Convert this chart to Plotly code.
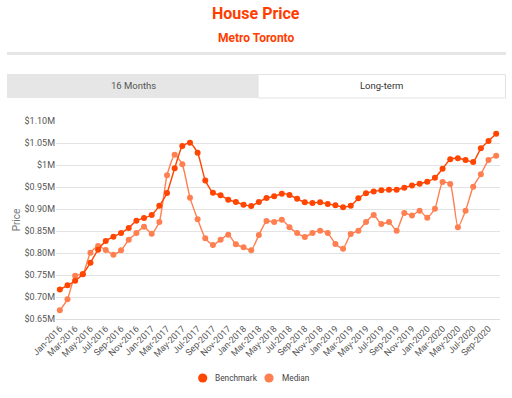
import plotly.graph_objects as go

months = [f"{m}-{y}" for y in range(2016, 2021) for m in
          ["Jan", "Feb", "Mar", "Apr", "May", "Jun", "Jul", "Aug", "Sep", "Oct", "Nov", "Dec"]][:58]

benchmark = [717, 726.5, 737, 751.5, 778, 807.5, 827, 837, 845.5, 857, 873.5, 879.5,
             886.4, 907.6, 936.4, 992.4, 1043.2, 1050.8, 1028, 965, 937, 931, 921, 916,
             909.8, 906.8, 916, 925, 928.8, 934.8, 931.8, 923.5, 915.2, 913.6, 915.5, 911.4,
             908.3, 904.2, 907.6, 924.2, 935.6, 940, 942.4, 944, 944, 948.5, 953.4, 957.6,
             962, 971, 991.7, 1013, 1015.2, 1011.2, 1006.8, 1037.8, 1054.7, 1071]
median = [669.7, 694.7, 748.5, 752, 800.8, 815.9, 807, 796, 806, 830, 845.5, 859.8,
          844, 870.5, 976.5, 1023.5, 1001.5, 925.8, 876.5, 833.3, 818, 830, 841.7, 819.7,
          812.9, 806, 841, 872.7, 870.5, 875.8, 858.3, 845.5, 836.4, 845.5, 850.8, 845.5,
          820.5, 809.8, 843, 850.8, 870.5, 886.4, 865.9, 870.5, 850.8, 890.9, 885.2, 896.2,
          880.3, 900.8, 961.4, 956.8, 858.3, 896.2, 950.8, 978.8, 1011.4, 1021.2]

y_ticks = [650, 700, 750, 800, 850, 900, 950, 1000, 1050, 1100]
y_tick_text = ["$0.65M", "$0.70M", "$0.75M", "$0.80M", "$0.85M", "$0.90M",
               "$0.95M", "$1M", "$1.05M", "$1.10M"]

series_names = ["Benchmark", "Median"]

x_tick_vals = months[::2]

benchmark_usd = [v * 1000 for v in benchmark]
median_usd = [v * 1000 for v in median]
y_ticks_usd = [v * 1000 for v in y_ticks]

C_BENCH = "#ff4500"
C_MED = "#ff7f50"
W, H = 512, 398
L, R, T, B = 56, 500, 121, 319


def px(x):
    return (x - L) / (R - L)


def py(y):
    return (B - y) / (B - T)


fig = go.Figure()
fig.add_trace(go.Scatter(x=months, y=median_usd, mode="lines+markers", name=series_names[1],
                         line=dict(color=C_MED, width=1.4, shape="spline", smoothing=0.5),
                         marker=dict(color=C_MED, size=6), showlegend=False))
fig.add_trace(go.Scatter(x=months, y=benchmark_usd, mode="lines+markers", name=series_names[0],
                         line=dict(color=C_BENCH, width=1.4, shape="spline", smoothing=0.5),
                         marker=dict(color=C_BENCH, size=6), showlegend=False))

shapes = [
    # divider line
    dict(type="rect", xref="paper", yref="paper", x0=px(7), x1=px(506), y0=py(55), y1=py(52),
         fillcolor="#e6e6e6", line=dict(width=0), layer="below"),
    # left tab
    dict(type="rect", xref="paper", yref="paper", x0=px(7), x1=px(258), y0=py(98), y1=py(74),
         fillcolor="#e6e6e6", line=dict(width=0), layer="below"),
    # right tab
    dict(type="rect", xref="paper", yref="paper", x0=px(258), x1=px(505.5), y0=py(98), y1=py(74.5),
         fillcolor="#ffffff", line=dict(width=1, color="#e2e2e2"), layer="below"),
]

annotations = [
    dict(text="<b>House Price</b>", x=px(256), y=py(13), xref="paper", yref="paper",
         showarrow=False, font=dict(size=16, color="#ff3d00", family="Roboto"),
         xanchor="center", yanchor="middle"),
    dict(text="<b>Metro Toronto</b>", x=px(256), y=py(38), xref="paper", yref="paper",
         showarrow=False, font=dict(size=12, color="#ff3d00", family="Roboto"),
         xanchor="center", yanchor="middle"),
    dict(text="16 Months", x=px(133), y=py(85.5), xref="paper", yref="paper",
         showarrow=False, font=dict(size=9.5, color="#555555", family="Roboto"),
         xanchor="center", yanchor="middle"),
    dict(text="Long-term", x=px(381), y=py(85.5), xref="paper", yref="paper",
         showarrow=False, font=dict(size=9.5, color="#333333", family="Roboto"),
         xanchor="center", yanchor="middle"),
]

# manual legend (circle + label)
legend_items = [(series_names[0], C_BENCH, 202.7), (series_names[1], C_MED, 269)]
for name, col, cx in legend_items:
    shapes.append(dict(type="circle", xref="paper", yref="paper",
                       x0=px(cx - 4.6), x1=px(cx + 4.6), y0=py(378 + 4.6), y1=py(378 - 4.6),
                       fillcolor=col, line=dict(width=0)))
    annotations.append(dict(text=name, x=px(cx + 10.5), y=py(378), xref="paper", yref="paper",
                            showarrow=False, font=dict(size=8.3, color="#444444", family="Roboto"),
                            xanchor="left", yanchor="middle"))

fig.update_layout(
    width=W, height=H,
    margin=dict(l=L, r=W - R, t=T, b=H - B, pad=0, autoexpand=False),
    paper_bgcolor="white", plot_bgcolor="white",
    font=dict(family="Roboto", size=9, color="#555555"),
    shapes=shapes, annotations=annotations,
    showlegend=False,
    xaxis=dict(type="category", categoryorder="array", categoryarray=months,
               range=[-0.5, len(months) - 0.5], automargin=False,
               tickvals=x_tick_vals, ticktext=x_tick_vals, tickangle=-45,
               showgrid=False, zeroline=False, showline=True, linecolor="#dddddd", linewidth=1,
               ticks="", tickfont=dict(size=9, color="#555555")),
    yaxis=dict(range=[650000, 1100000], tickvals=y_ticks_usd, ticktext=y_tick_text,
               automargin=False,
               showgrid=True, gridcolor="#e3e3e3", gridwidth=1, zeroline=False,
               ticks="", tickfont=dict(size=9, color="#555555"),
               title=dict(text="Price", font=dict(size=10, color="#777777"), standoff=2)),
)

fig.write_html("out.html", config={"displayModeBar": False},
               post_script="document.body.style.margin='0';document.body.style.overflow='hidden';")
